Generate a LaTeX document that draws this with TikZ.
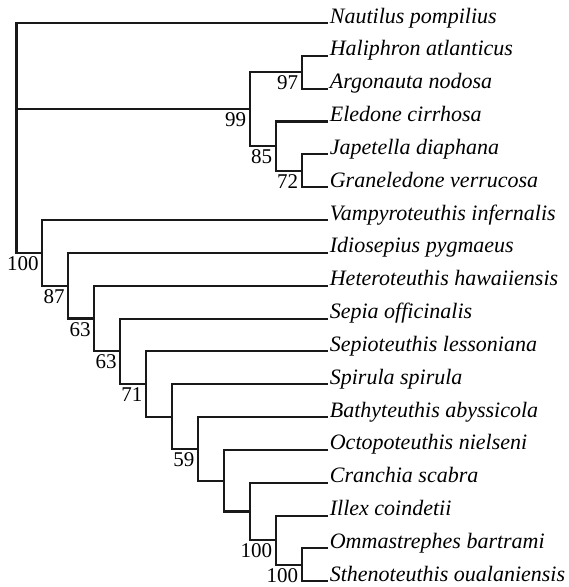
\documentclass[tikz,border=0pt]{standalone}
\usepackage{fontspec}
\setmainfont{Liberation Serif}
\usepackage{tikz}
\usetikzlibrary{positioning}
\tikzset{
  every picture/.style={line join=miter},
  branch/.style={black!90, line width=2.1pt},
  taxon/.style={font=\fontsize{22}{25}\selectfont\itshape, anchor=base west, inner sep=2pt},
  support/.style={font=\fontsize{21}{24}\selectfont, anchor=north east, inner sep=0pt},
}

\begin{document}
\begin{tikzpicture}[x=25.93pt, y=-32.84pt]
\useasboundingbox (-16.5pt,23pt) rectangle (552.5pt,-564pt);
% taxa
\node[taxon] (nau) at (12,0) {Nautilus pompilius};
\node[taxon] (hal) at (12,1) {Haliphron atlanticus};
\node[taxon] (arg) at (12,2) {Argonauta nodosa};
\node[taxon] (ele) at (12,3) {Eledone cirrhosa};
\node[taxon] (jap) at (12,4) {Japetella diaphana};
\node[taxon] (gra) at (12,5) {Graneledone verrucosa};
\node[taxon] (vam) at (12,6) {Vampyroteuthis infernalis};
\node[taxon] (idi) at (12,7) {Idiosepius pygmaeus};
\node[taxon] (het) at (12,8) {Heteroteuthis hawaiiensis};
\node[taxon] (sep) at (12,9) {Sepia officinalis};
\node[taxon] (sepi) at (12,10) {Sepioteuthis lessoniana};
\node[taxon] (spi) at (12,11) {Spirula spirula};
\node[taxon] (bat) at (12,12) {Bathyteuthis abyssicola};
\node[taxon] (oct) at (12,13) {Octopoteuthis nielseni};
\node[taxon] (cra) at (12,14) {Cranchia scabra};
\node[taxon] (ill) at (12,15) {Illex coindetii};
\node[taxon] (omm) at (12,16) {Ommastrephes bartrami};
\node[taxon] (ste) at (12,17) {Sthenoteuthis oualaniensis};
% internal nodes
\coordinate (root) at (0,3.5);
\coordinate (oct99) at (9,2.625);
\coordinate (oct97) at (11,1.5);
\coordinate (oct85) at (10,3.75);
\coordinate (oct72) at (11,4.5);
\coordinate (dec1) at (1,7.0);
\coordinate (dec2) at (2,7.999);
\coordinate (dec3) at (3,8.998);
\coordinate (dec4) at (4,9.996);
\coordinate (dec5) at (5,10.992);
\coordinate (dec6) at (6,11.984);
\coordinate (dec7) at (7,12.969);
\coordinate (dec8) at (8,13.938);
\coordinate (dec9) at (9,14.875);
\coordinate (dec10) at (10,15.75);
\coordinate (dec11) at (11,16.5);
% branches
\draw[branch] (root) |- (nau.base west) (root) |- (oct99) (root) |- (dec1);
\draw[branch] (oct99) |- (oct97) (oct99) |- (oct85);
\draw[branch] (oct97) |- (hal.base west) (oct97) |- (arg.base west);
\draw[branch] (oct85) |- (ele.base west) (oct85) |- (oct72);
\draw[branch] (oct72) |- (jap.base west) (oct72) |- (gra.base west);
\draw[branch] (dec1) |- (vam.base west) (dec1) |- (dec2);
\draw[branch] (dec2) |- (idi.base west) (dec2) |- (dec3);
\draw[branch] (dec3) |- (het.base west) (dec3) |- (dec4);
\draw[branch] (dec4) |- (sep.base west) (dec4) |- (dec5);
\draw[branch] (dec5) |- (sepi.base west) (dec5) |- (dec6);
\draw[branch] (dec6) |- (spi.base west) (dec6) |- (dec7);
\draw[branch] (dec7) |- (bat.base west) (dec7) |- (dec8);
\draw[branch] (dec8) |- (oct.base west) (dec8) |- (dec9);
\draw[branch] (dec9) |- (cra.base west) (dec9) |- (dec10);
\draw[branch] (dec10) |- (ill.base west) (dec10) |- (dec11);
\draw[branch] (dec11) |- (omm.base west) (dec11) |- (ste.base west);
% bootstrap support
\node[support] (b99) at ([xshift=-3.5pt,yshift=-3.4pt]oct99) {99};
\node[support] (b97) at ([xshift=-3.5pt,yshift=-3.4pt]oct97) {97};
\node[support] (b85) at ([xshift=-3.5pt,yshift=-3.4pt]oct85) {85};
\node[support] (b72) at ([xshift=-3.5pt,yshift=-3.4pt]oct72) {72};
\node[support] (b100a) at ([xshift=-3.5pt,yshift=-3.4pt]dec1) {100};
\node[support] (b87) at ([xshift=-3.5pt,yshift=-3.4pt]dec2) {87};
\node[support] (b63a) at ([xshift=-3.5pt,yshift=-3.4pt]dec3) {63};
\node[support] (b63b) at ([xshift=-3.5pt,yshift=-3.4pt]dec4) {63};
\node[support] (b71) at ([xshift=-3.5pt,yshift=-3.4pt]dec5) {71};
\node[support] (b59) at ([xshift=-3.5pt,yshift=-3.4pt]dec7) {59};
\node[support] (b100b) at ([xshift=-3.5pt,yshift=-3.4pt]dec10) {100};
\node[support] (b100c) at ([xshift=-3.5pt,yshift=-3.4pt]dec11) {100};
\end{tikzpicture}
\end{document}
